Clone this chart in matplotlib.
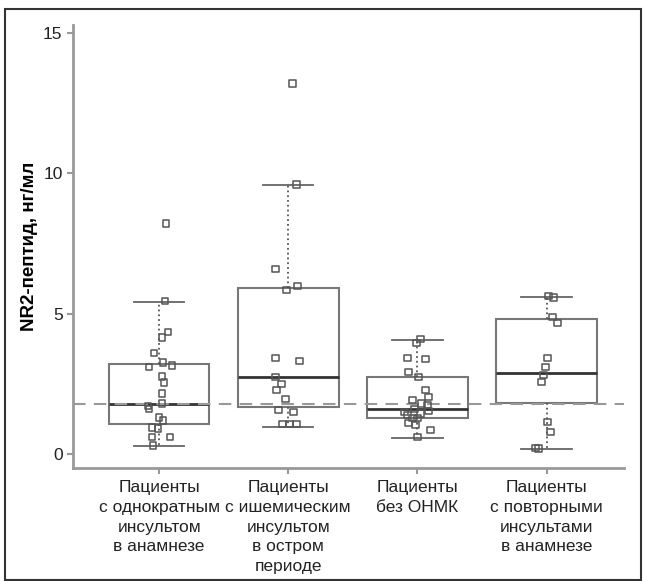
import matplotlib.pyplot as plt
from matplotlib.patches import Rectangle

plt.rcParams['font.family'] = ['Liberation Sans', 'DejaVu Sans']

# Groups (x labels)
groups = ['Пациенты\nс однократным\nинсультом\nв анамнезе',
          'Пациенты\nс ишемическим\nинсультом\nв остром\nпериоде',
          'Пациенты\nбез ОНМК',
          'Пациенты\nс повторными\nинсультами\nв анамнезе']

# Box statistics
q1 = [1.07, 1.68, 1.29, 1.82]
med = [1.79, 2.75, 1.60, 2.90]
q3 = [3.20, 5.90, 2.75, 4.80]
whislo = [0.30, 0.96, 0.57, 0.18]
whishi = [5.40, 9.57, 4.07, 5.60]

# Individual observations per group
g1_values = [8.2, 5.45, 4.35, 4.15, 3.6, 3.25, 3.15, 3.1, 2.75, 2.55, 2.15,
             1.8, 1.7, 1.6, 1.3, 1.2, 0.95, 0.9, 0.6, 0.6, 0.3]
g2_values = [13.2, 9.6, 6.59, 5.98, 5.84, 3.42, 3.31, 2.74, 2.49, 2.28, 1.96,
             1.57, 1.5, 1.07, 1.07, 1.07]
g3_values = [4.1, 3.95, 3.42, 3.38, 2.92, 2.74, 2.28, 2.03, 1.92, 1.8, 1.75,
             1.6, 1.53, 1.5, 1.45, 1.39, 1.28, 1.28, 1.1, 1.03, 0.86, 0.61]
g4_values = [5.62, 5.58, 4.88, 4.67, 3.42, 3.1, 2.81, 2.56, 1.14, 0.78, 0.21, 0.2]

reference_level = 1.79

# horizontal jitter (pixels)
g1_jit = [7, 6, 9, 3, -5, 4, 13, -10, 3, 5, 3, 3, -11, -10, 0, 4, -7, -1, -7, 11, -6]
g2_jit = [4, 8, -13, 9, -2, -13, 11, -13, -7, -12, -3, -10, 5, -6, 1, 8]
g3_jit = [3, -1, -10, 8, -9, 1, 8, 11, -5, 4, 10, -3, 11, -13, 3, -10, -5, 0, -9, -2, 13, 0]
g4_jit = [2, 7, 6, 11, 1, -1, -3, -5, 1, 4, -11, -8]

values = [g1_values, g2_values, g3_values, g4_values]
jitters = [g1_jit, g2_jit, g3_jit, g4_jit]

fig = plt.figure(figsize=(6.46, 5.81), dpi=100)
ax = fig.add_axes([0.113, 0.1945, 0.853, 0.7625])

stats = []
for i in range(4):
    stats.append(dict(q1=q1[i], med=med[i], q3=q3[i], whislo=whislo[i], whishi=whishi[i], fliers=[]))

ax.bxp(stats, positions=[1, 2, 3, 4], widths=0.78, showfliers=False, patch_artist=True,
       boxprops=dict(facecolor='white', edgecolor='#777777', linewidth=1.5),
       medianprops=dict(color='#333333', linewidth=2),
       whiskerprops=dict(color='#555555', linewidth=1.3, linestyle=':'),
       capprops=dict(color='#666666', linewidth=1.3), capwidths=0.39)

ax.axhline(reference_level, color='#999999', linestyle=(0, (6, 4)), linewidth=1.5, zorder=3)

px = 1 / 129.0
for i, (vals, jit) in enumerate(zip(values, jitters)):
    xs = [i + 1 + j * px for j in jit]
    ax.scatter(xs, vals, marker='s', s=22, facecolors='none', edgecolors='#555555',
               linewidths=1.1, zorder=4)

ax.set_xlim(0.333, 4.6)
ax.set_ylim(-0.5, 15.28)
ax.set_yticks([0, 5, 10, 15])
ax.set_xticks([1, 2, 3, 4])
ax.set_xticklabels(groups, fontsize=12.5, linespacing=1.38)
ax.tick_params(axis='y', labelsize=12.5, colors='#999999', labelcolor='#222222', length=4, width=1.5)
ax.tick_params(axis='x', colors='#999999', labelcolor='#222222', length=4, width=1.5, pad=5)

ax.set_ylabel('NR2-пептид, нг/мл', fontsize=13.5, fontweight='bold', labelpad=4)

for side in ['top', 'right']:
    ax.spines[side].set_visible(False)
for side in ['left', 'bottom']:
    ax.spines[side].set_color('#999999')
    ax.spines[side].set_linewidth(2)

# outer frame around the whole figure
fig.patches.append(Rectangle((0.008, 0.002), 0.985, 0.982, transform=fig.transFigure,
                             fill=False, edgecolor='#333333', linewidth=1.5))

plt.savefig('out.png', dpi=100)
